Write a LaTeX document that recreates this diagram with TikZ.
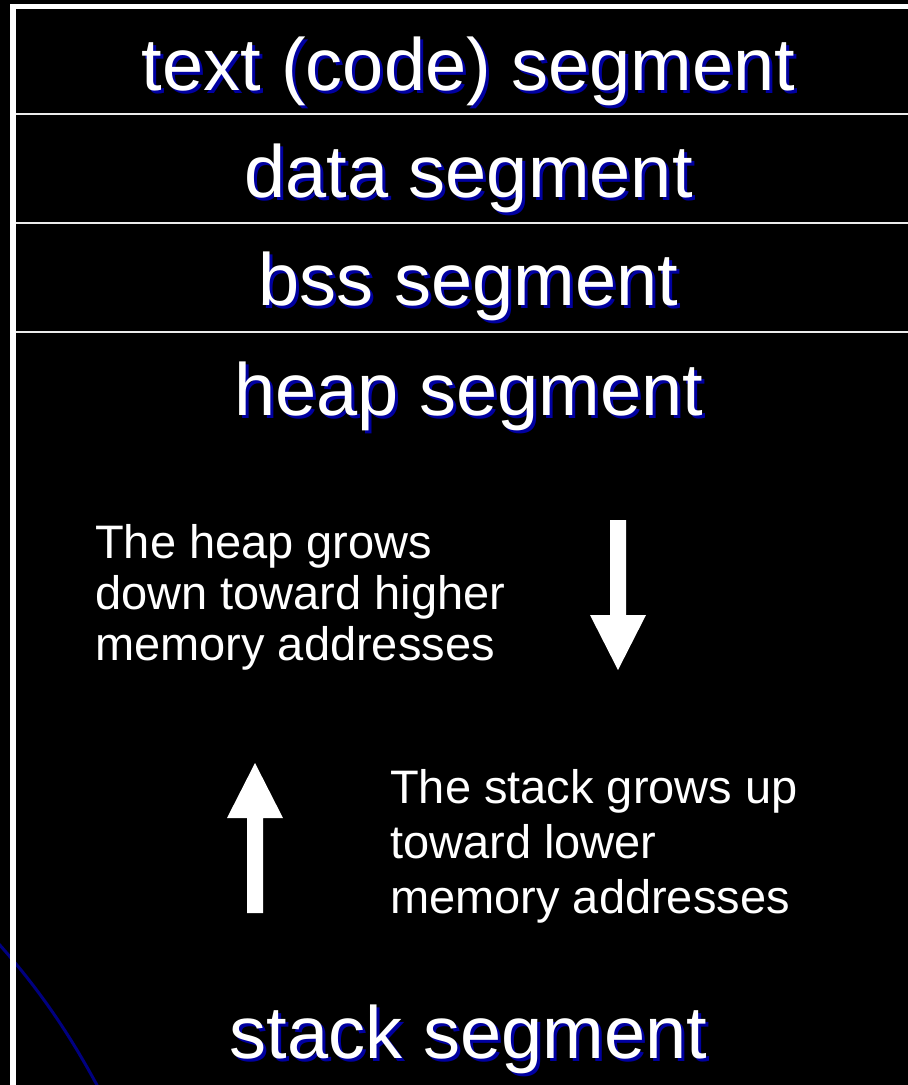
\documentclass[tikz,border=0pt]{standalone}
\usepackage{fontspec}
\setmainfont{Liberation Sans}
\definecolor{shadowblue}{RGB}{0,0,160}
\definecolor{curveblue}{RGB}{0,0,128}
\definecolor{rule}{RGB}{235,235,235}
\tikzset{
  segtext/.style={text=white, inner sep=0pt, anchor=base, font=\fontsize{74}{88}\selectfont},
  note/.style={text=white, inner sep=0pt, anchor=base west, font=\fontsize{47}{55}\selectfont},
  divider/.style={draw=rule, line width=2.5pt},
  blockarrow/.style={fill=white, draw=none}
}
\newcommand{\shadowed}[1]{\makebox[0pt][l]{\hspace{3pt}\raisebox{-3pt}{\textcolor{shadowblue}{#1}}}#1}
\begin{document}
\begin{tikzpicture}[x=1pt,y=-1pt]
\useasboundingbox (0,0) rectangle (908,1085);
\clip (0,0) rectangle (908,1085);
\fill[black] (0,0) rectangle (908,1085);
% blue curve in the lower left corner
\draw[curveblue, line width=3pt] (-2,943) .. controls (40,990) and (70,1035) .. (98,1087);
% dividers between segments
\coordinate (d1l) at (13,114);  \coordinate (d1r) at (910,114);
\coordinate (d2l) at (13,223);  \coordinate (d2r) at (910,223);
\coordinate (d3l) at (13,332);  \coordinate (d3r) at (910,332);
\draw[divider] (d1l) -- (d1r);
\draw[divider] (d2l) -- (d2r);
\draw[divider] (d3l) -- (d3r);
% outer frame (left and top)
\coordinate (tl) at (13,6.5);
\coordinate (tr) at (912,6.5);
\coordinate (bl) at (13,1090);
\draw[white, line width=6pt] (bl) -- (13,4);
\draw[white, line width=5pt] (10,6.5) -- (tr);
% segment labels
\node[segtext] (text) at (468.5,90) {\shadowed{text (code) segment}};
\node[segtext] (data) at (468.5,197) {\shadowed{data segment}};
\node[segtext] (bss) at (468.5,305) {\shadowed{bss segment}};
\node[segtext] (heap) at (468.5,415) {\shadowed{heap segment}};
\node[segtext] (stack) at (468.5,1058) {\shadowed{stack segment}};
% notes
\node[note] (heapA) at (95,558) {The heap grows};
\node[note] (heapB) at (95,609) {down toward higher};
\node[note] (heapC) at (95,660) {memory addresses};
\node[note] (stackA) at (390,803) {The stack grows up};
\node[note] (stackB) at (390,858) {toward lower};
\node[note] (stackC) at (390,913) {memory addresses};
% block arrows
\fill[blockarrow] (610,520) -- (626,520) -- (626,615) -- (646,615) -- (618,670) -- (590,615) -- (610,615) -- cycle;
\fill[blockarrow] (247,913) -- (263,913) -- (263,818) -- (283,818) -- (255,763) -- (227,818) -- (247,818) -- cycle;
\end{tikzpicture}
\end{document}
